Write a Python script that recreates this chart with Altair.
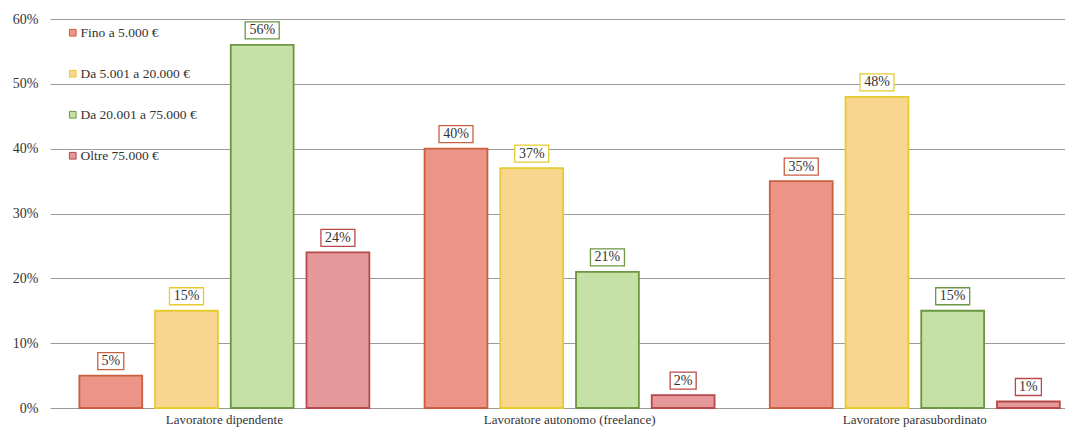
import altair as alt
import pandas as pd

categories = ["Lavoratore dipendente", "Lavoratore autonomo (freelance)", "Lavoratore parasubordinato"]
series = ["Fino a 5.000 €", "Da 5.001 a 20.000 €", "Da 20.001 a 75.000 €", "Oltre 75.000 €"]
fino_5000 = [5, 40, 35]
da_5001_20000 = [15, 37, 48]
da_20001_75000 = [56, 21, 15]
oltre_75000 = [24, 2, 1]

fills = ["#ec9487", "#f8d690", "#c6e1a6", "#e5999a"]
strokes = ["#c9613f", "#e6cb2e", "#6b9741", "#b8494a"]

rows = []
for s, vals in zip(series, [fino_5000, da_5001_20000, da_20001_75000, oltre_75000]):
    for c, v in zip(categories, vals):
        rows.append({"categoria": c, "fascia": s, "valore": v})
df = pd.DataFrame(rows)

font = "Liberation Serif, Times New Roman, serif"

base = alt.Chart(df).transform_calculate(
    pct="datum.valore / 100",
    lab="datum.valore + '%'",
).encode(
    x=alt.X("categoria:N", sort=categories,
            scale=alt.Scale(paddingInner=0.16, paddingOuter=0.05, align=0.85),
            axis=alt.Axis(title=None, labelAngle=0, domain=False, ticks=False,
                          labelFont=font, labelFontSize=13, labelColor="#333",
                          labelPadding=5)),
    xOffset=alt.XOffset("fascia:N", sort=series,
                        scale=alt.Scale(paddingInner=0.17, paddingOuter=0)),
    y=alt.Y("pct:Q", scale=alt.Scale(domain=[0, 0.6], nice=False),
            axis=alt.Axis(title=None, format=".0%", values=[0, 0.1, 0.2, 0.3, 0.4, 0.5, 0.6],
                          domain=False, ticks=False, labelPadding=12,
                          labelFont=font, labelFontSize=14, labelColor="#333",
                          gridColor="#9a9a9a", gridWidth=1)),
)

bars = base.mark_bar(strokeWidth=1.8).encode(
    fill=alt.Fill("fascia:N", sort=series,
                  scale=alt.Scale(domain=series, range=fills),
                  legend=alt.Legend(title=None, orient="none", legendX=16, legendY=7,
                                    rowPadding=26, symbolType="square", symbolSize=45,
                                    symbolStrokeWidth=1, symbolStrokeColor="#a05040",
                                    labelFont=font, labelFontSize=13.5, labelColor="#333",
                                    labelOffset=1)),
    stroke=alt.Stroke("fascia:N", sort=series,
                      scale=alt.Scale(domain=series, range=strokes), legend=None),
)

box2 = base.transform_filter("datum.valore >= 10").mark_point(
    shape="M-1,-0.5H1V0.5H-1Z", size=1156, filled=False, fill="white",
    strokeWidth=1.3, opacity=1, yOffset=-14.5,
).encode(
    stroke=alt.Stroke("fascia:N", sort=series,
                      scale=alt.Scale(domain=series, range=strokes), legend=None),
)
box1 = base.transform_filter("datum.valore < 10").mark_point(
    shape="M-1,-0.654H1V0.654H-1Z", size=676, filled=False, fill="white",
    strokeWidth=1.3, opacity=1, yOffset=-14.5,
).encode(
    stroke=alt.Stroke("fascia:N", sort=series,
                      scale=alt.Scale(domain=series, range=strokes), legend=None),
)

labels = base.mark_text(dy=-14.5, baseline="middle", align="center",
                        font=font, fontSize=14, color="#333").encode(
    text="lab:N"
)

chart = alt.layer(bars, box2, box1, labels).properties(
    width=1015, height=389,
    autosize="none",
    padding={"left": 42, "top": 11, "right": 0, "bottom": 20},
    background="white",
).configure_view(stroke=None)

chart.save("out.html", embed_options={"renderer": "svg", "actions": False})
